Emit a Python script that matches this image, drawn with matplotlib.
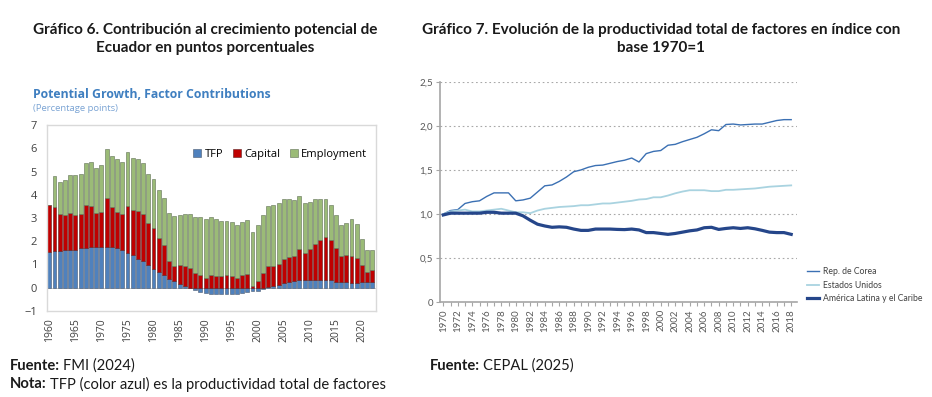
import matplotlib
matplotlib.use('Agg')
import matplotlib.pyplot as plt
import numpy as np

# Gráfico 6: contribuciones al crecimiento potencial (Ecuador), 1960-2022
years_ec = list(range(1960, 2023))
tfp = [1.53, 1.57, 1.57, 1.61, 1.61, 1.64, 1.69, 1.71, 1.74, 1.76,
       1.76, 1.76, 1.74, 1.70, 1.61, 1.51, 1.40, 1.25, 1.14, 0.97,
       0.82, 0.66, 0.53, 0.39, 0.27, 0.17, 0.08, 0.00, -0.10, -0.17,
       -0.23, -0.26, -0.27, -0.27, -0.27, -0.27, -0.26, -0.23, -0.20, -0.16,
       -0.12, -0.05, 0.03, 0.06, 0.10, 0.19, 0.23, 0.27, 0.33, 0.33,
       0.35, 0.35, 0.35, 0.35, 0.32, 0.26, 0.24, 0.23, 0.22, 0.20,
       0.23, 0.24, 0.24]
capital = [2.03, 1.90, 1.59, 1.53, 1.59, 1.50, 1.48, 1.86, 1.79, 1.45,
           1.50, 2.09, 1.72, 1.56, 1.55, 2.02, 1.93, 2.05, 2.04, 1.80,
           1.73, 1.46, 1.29, 0.74, 0.67, 0.80, 0.85, 0.85, 0.63, 0.53,
           0.43, 0.55, 0.52, 0.49, 0.56, 0.50, 0.42, 0.53, 0.61, 0.09,
           0.30, 0.62, 0.89, 0.88, 0.94, 1.06, 1.10, 1.10, 1.34, 1.17,
           1.32, 1.55, 1.72, 1.84, 1.72, 1.44, 1.11, 1.17, 1.15, 1.08,
           0.75, 0.42, 0.54]
employment = [0.00, 1.33, 1.38, 1.50, 1.63, 1.69, 1.73, 1.78, 1.87, 1.95,
              2.03, 2.12, 2.20, 2.27, 2.27, 2.29, 2.26, 2.22, 2.18, 2.14,
              2.12, 2.09, 2.06, 2.10, 2.13, 2.18, 2.24, 2.32, 2.42, 2.51,
              2.52, 2.50, 2.43, 2.36, 2.31, 2.34, 2.30, 2.31, 2.30, 2.32,
              2.40, 2.49, 2.58, 2.63, 2.62, 2.58, 2.50, 2.41, 2.28, 2.13,
              2.02, 1.92, 1.75, 1.61, 1.50, 1.41, 1.36, 1.37, 1.57, 1.47,
              1.12, 0.97, 0.85]

# Gráfico 7: PTF en índice, base 1970=1
years_ptf = list(range(1970, 2019))
corea = [1.00, 1.04, 1.05, 1.12, 1.14, 1.15, 1.20, 1.24, 1.24, 1.24,
         1.15, 1.16, 1.18, 1.25, 1.32, 1.33, 1.37, 1.42, 1.48, 1.50,
         1.53, 1.55, 1.555, 1.575, 1.595, 1.61, 1.635, 1.59, 1.685, 1.71,
         1.72, 1.78, 1.79, 1.82, 1.845, 1.87, 1.91, 1.955, 1.945, 2.015,
         2.02, 2.01, 2.015, 2.02, 2.02, 2.04, 2.06, 2.07, 2.07]
eeuu = [1.00, 1.03, 1.04, 1.05, 1.03, 1.03, 1.04, 1.05, 1.06, 1.04,
        1.02, 1.02, 1.01, 1.04, 1.06, 1.07, 1.08, 1.085, 1.09, 1.10,
        1.10, 1.11, 1.12, 1.12, 1.13, 1.14, 1.15, 1.165, 1.17, 1.19,
        1.19, 1.21, 1.235, 1.255, 1.27, 1.27, 1.27, 1.26, 1.26, 1.275,
        1.275, 1.28, 1.285, 1.29, 1.30, 1.31, 1.315, 1.32, 1.325]
latam = [0.99, 1.01, 1.01, 1.01, 1.01, 1.01, 1.02, 1.02, 1.01, 1.01,
         1.01, 0.98, 0.93, 0.885, 0.865, 0.85, 0.855, 0.85, 0.83, 0.815,
         0.815, 0.83, 0.83, 0.83, 0.826, 0.824, 0.83, 0.82, 0.79, 0.79,
         0.78, 0.77, 0.78, 0.795, 0.81, 0.82, 0.845, 0.85, 0.826, 0.837,
         0.845, 0.837, 0.845, 0.833, 0.815, 0.795, 0.79, 0.79, 0.77]

W, H = 932, 397
plt.rcParams['font.family'] = ['Lato', 'DejaVu Sans']
fig = plt.figure(figsize=(W / 100, H / 100), dpi=100)
fig.patch.set_facecolor('white')


def fx(px):
    return px / W


def fy(py):
    return 1 - py / H


# titulos
for x, y, s in [(205, 30, 'Gráfico 6. Contribución al crecimiento potencial de'),
                (205, 48, 'Ecuador en puntos porcentuales'),
                (661, 30, 'Gráfico 7. Evolución de la productividad total de factores en índice con'),
                (661, 48, 'base 1970=1')]:
    fig.text(fx(x), fy(y), s, ha='center', va='center', fontsize=11, fontweight='bold', color='#1a1a1a')

# ---- grafico izquierdo (FMI)
inner = ['Open Sans', 'DejaVu Sans']
fig.text(fx(33), fy(94), 'Potential Growth, Factor Contributions', ha='left', va='center',
         fontsize=8.8, fontweight='bold', color='#3f7fc0', family=inner)
fig.text(fx(33), fy(108), '(Percentage points)', ha='left', va='center',
         fontsize=6.8, color='#7ba4d4', family=inner)

ax1 = fig.add_axes([fx(46.7), fy(311), (376 - 46.7) / W, (311 - 125) / H])
tfp_a = np.array(tfp)
cap_a = np.array(capital)
cap_bottom = np.clip(tfp_a, 0, None)
emp_bottom = cap_bottom + cap_a
ax1.axhline(0, color='#bfbfbf', lw=0.6, zorder=1)
ax1.bar(years_ec, tfp, width=0.75, color='#4f81bd', edgecolor='#4a5a70', lw=0.4, label='TFP', zorder=2)
ax1.bar(years_ec, capital, width=0.75, bottom=cap_bottom, color='#c00000', edgecolor='#5a2020',
        lw=0.4, label='Capital', zorder=2)
ax1.bar(years_ec, employment, width=0.75, bottom=emp_bottom, color='#9bbb77', edgecolor='#5f6f55',
        lw=0.4, label='Employment', zorder=2)
ax1.set_xlim(1959.5, 2022.7)
ax1.set_ylim(-1, 7)
ax1.set_yticks(range(-1, 8))
ax1.set_xticks(range(1960, 2021, 5))
ax1.tick_params(axis='y', length=0, pad=7, labelsize=8, labelcolor='#404040')
ax1.tick_params(axis='x', length=0, pad=5, labelsize=7.5, labelcolor='#404040', labelrotation=90)
for lab in ax1.get_xticklabels() + ax1.get_yticklabels():
    lab.set_family(inner)
for s in ax1.spines.values():
    s.set_color('#d9d9d9')
    s.set_linewidth(1.0)
ax1.legend(loc='upper right', bbox_to_anchor=(fx(373), fy(143)), bbox_transform=fig.transFigure,
           ncol=3, frameon=False, handlelength=0.7, handleheight=0.7,
           handletextpad=0.3, columnspacing=0.9, borderpad=0, prop={'family': inner, 'size': 8})

# ---- grafico derecho (CEPAL)
narrow = ['Lato', 'DejaVu Sans']
ax2 = fig.add_axes([fx(440), fy(302.3), (797 - 440) / W, (302.3 - 81.7) / H])
ax2.plot(years_ptf, corea, color='#3b70b3', lw=1.0, label='Rep. de Corea')
ax2.plot(years_ptf, eeuu, color='#a9d3e0', lw=1.3, label='Estados Unidos')
ax2.plot(years_ptf, latam, color='#25468a', lw=2.3, label='América Latina y el Caribe')
ax2.set_xlim(1969.55, 2018.8)
ax2.set_ylim(0, 2.5)
ax2.set_yticks([0, 0.5, 1.0, 1.5, 2.0, 2.5])
ax2.set_yticklabels(['0', '0,5', '1,0', '1,5', '2,0', '2,5'])
ax2.set_xticks(years_ptf)
ax2.set_xticklabels([str(y) if y % 2 == 0 else '' for y in years_ptf], rotation=90)
ax2.yaxis.grid(True, linestyle=(0, (1.5, 2.5)), color='#a8a8a8', lw=0.8)
ax2.set_axisbelow(True)
for s in ['top', 'right']:
    ax2.spines[s].set_visible(False)
for s in ['left', 'bottom']:
    ax2.spines[s].set_color('#a6a6a6')
    ax2.spines[s].set_linewidth(1.2)
ax2.tick_params(axis='both', length=3, color='#a6a6a6', labelsize=7, labelcolor='#595959', pad=2)
for lab in ax2.get_xticklabels() + ax2.get_yticklabels():
    lab.set_family(narrow)
ax2.legend(loc='upper left', bbox_to_anchor=(fx(803), fy(263)), bbox_transform=fig.transFigure,
           frameon=False, handlelength=1.3, handletextpad=0.5, labelspacing=0.5, borderpad=0,
           prop={'family': narrow, 'size': 6.2}, labelcolor='#404040')

# ---- notas al pie
renderer = fig.canvas.get_renderer()


def nota(x, y, bold, rest):
    t = fig.text(fx(x), fy(y), bold, ha='left', va='center', fontsize=10.6,
                 fontweight='bold', color='#1a1a1a')
    bb = t.get_window_extent(renderer)
    fig.text((bb.x1 + 3) / W, fy(y), rest, ha='left', va='center', fontsize=10.6, color='#1a1a1a')


nota(10, 366, 'Fuente:', 'FMI (2024)')
nota(10, 384, 'Nota:', 'TFP (color azul) es la productividad total de factores')
nota(430, 366, 'Fuente:', 'CEPAL (2025)')

fig.savefig('out.png', dpi=100, facecolor='white')
